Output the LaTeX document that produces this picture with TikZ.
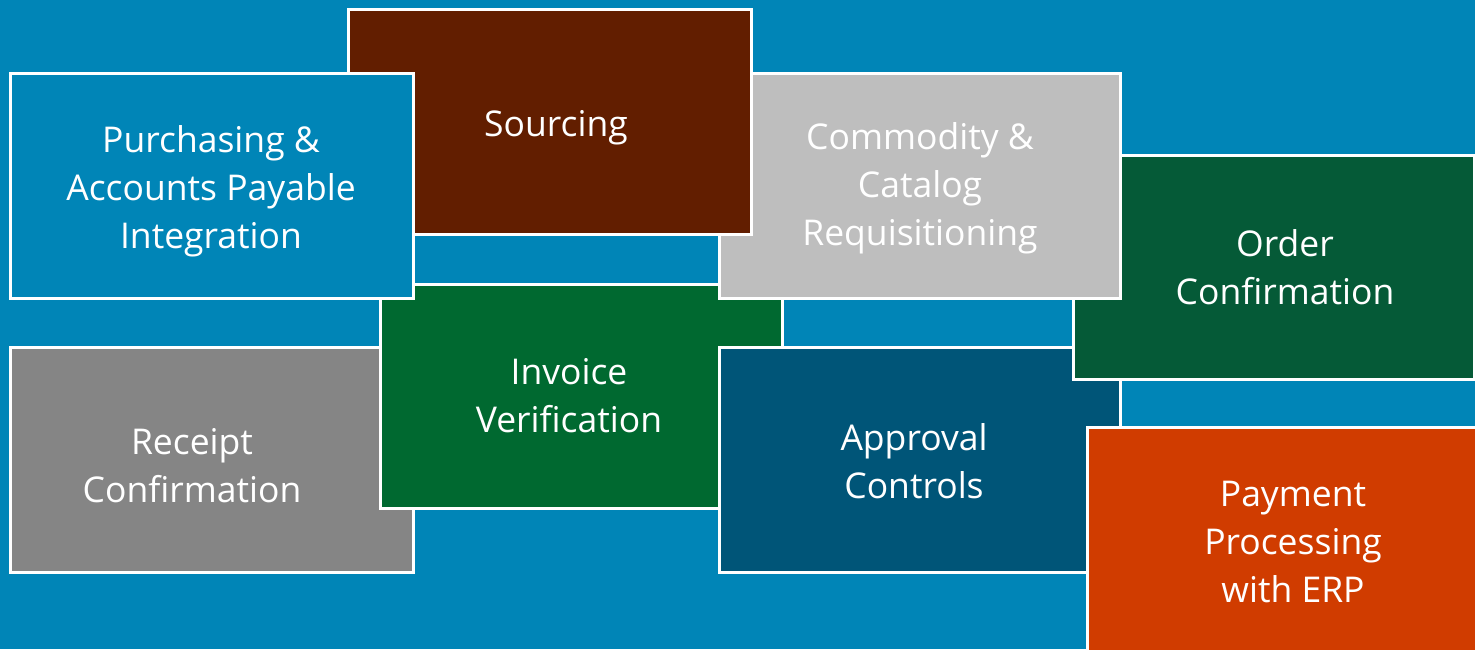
\documentclass[tikz,border=0pt]{standalone}
\usepackage{fontspec}
\setmainfont{Open Sans}
\definecolor{bg}{RGB}{0,133,183}
\definecolor{cSrc}{RGB}{98,30,0}
\definecolor{cCom}{RGB}{190,190,190}
\definecolor{cOrd}{RGB}{5,90,55}
\definecolor{cInv}{RGB}{0,105,48}
\definecolor{cRec}{RGB}{133,133,133}
\definecolor{cApp}{RGB}{0,85,120}
\definecolor{cPay}{RGB}{208,60,0}
\tikzset{
  box/.style={draw=white, line width=3pt, inner sep=0pt, outer sep=0pt, anchor=north west},
  txt/.style={text=white, align=center, font=\fontsize{35.5}{48}\selectfont, inner sep=0pt}
}
\begin{document}
\begin{tikzpicture}[x=1pt,y=-1pt]
\fill[bg] (0,0) rectangle (1475,649);
\useasboundingbox (0,0) rectangle (1475,649);
% Receipt
\node[box, fill=cRec, minimum width=403pt, minimum height=225pt] (rec) at (10,347) {};
\node[txt] (rect) at (192,466) {Receipt\\Confirmation};
% Invoice
\node[box, fill=cInv, minimum width=402pt, minimum height=224pt] (inv) at (380,284) {};
\node[txt] (invt) at (569,396) {Invoice\\Verification};
% Approval
\node[box, fill=cApp, minimum width=401pt, minimum height=225pt] (app) at (719,347) {};
\node[txt] (appt) at (914,461) {Approval\\Controls};
% Order
\node[box, fill=cOrd, minimum width=401pt, minimum height=224pt] (ord) at (1073,155) {};
\node[txt] (ordt) at (1285,267) {Order\\Confirmation};
% Commodity
\node[box, fill=cCom, minimum width=401pt, minimum height=225pt] (com) at (719,73) {};
\node[txt, yshift=-4pt] (comt) at (920,184) {Commodity \&\\Catalog\\Requisitioning};
% Sourcing
\node[box, fill=cSrc, minimum width=403pt, minimum height=225pt] (src) at (348,9) {};
\node[txt, yshift=-4pt] (srct) at (556,124) {Sourcing};
% Purchasing
\node[box, fill=bg, minimum width=403pt, minimum height=225pt] (pur) at (10,73) {};
\node[txt, yshift=-4pt] (purt) at (211,187) {Purchasing \&\\Accounts Payable\\Integration};
% Payment
\node[box, fill=cPay, minimum width=403pt, minimum height=240pt] (pay) at (1087,427) {};
\node[txt] (payt) at (1293,542) {Payment\\Processing\\with ERP};
\end{tikzpicture}
\end{document}
